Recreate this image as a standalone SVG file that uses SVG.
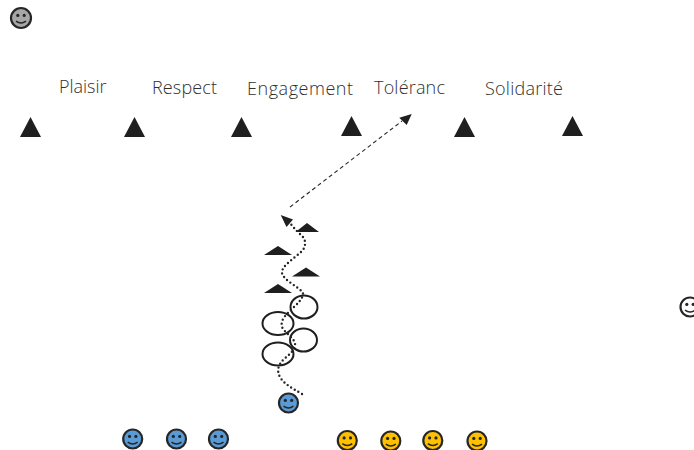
<svg xmlns="http://www.w3.org/2000/svg" width="694" height="450" viewBox="0 0 694 450">
<style>
.lbl{font-family:"Open Sans","Noto Sans",sans-serif;font-weight:300;font-size:18px;fill:#303030}
.tri{fill:#1f1f1f}
.ell{fill:none;stroke:#1f1f1f;stroke-width:2}
.face{stroke:#262626;stroke-width:2.2}
.eye{fill:#262626}
.mouth{fill:none;stroke:#262626;stroke-width:1.5}
.blue{fill:#5b9bd5}.yellow{fill:#ffc000}.grey{fill:#a6a6a6}.white{fill:#fff}
</style>
<defs>
<g id="smile"><circle class="eye" cx="-3.2" cy="-2.6" r="1.6"/><circle class="eye" cx="3.2" cy="-2.6" r="1.6"/><path class="mouth" d="M-5 3.2Q0 6.8 5 3.2"/></g>
<polygon id="big" class="tri" points="0,0 10.5,20 -10.5,20"/>
</defs>
<g id="labels">
<text class="lbl" x="59" y="93" textLength="47.5">Plaisir</text>
<text class="lbl" x="152" y="94" textLength="65">Respect</text>
<text class="lbl" x="247" y="95" textLength="106">Engagement</text>
<text class="lbl" x="374" y="94" textLength="71">Tol&#233;ranc</text>
<text class="lbl" x="485" y="95" textLength="78">Solidarit&#233;</text>
</g>
<g id="cones-large">
<use href="#big" x="30.5" y="117"/><use href="#big" x="134.5" y="117"/><use href="#big" x="241.5" y="117"/><use href="#big" x="351.5" y="116"/><use href="#big" x="464.5" y="117"/><use href="#big" x="572.5" y="116"/>
</g>
<g id="cones-small">
<polygon class="tri" points="307,223 319,232 295.5,232"/>
<polygon class="tri" points="278,246 292,255 264,255"/>
<polygon class="tri" points="306,267.5 320,276.5 292,276.5"/>
<polygon class="tri" points="278,284 292,293 264,293"/>
</g>
<g id="hoops">
<ellipse class="ell" cx="304" cy="307" rx="13.5" ry="11.5"/>
<ellipse class="ell" cx="278" cy="323.5" rx="15.5" ry="11.5"/>
<ellipse class="ell" cx="303.5" cy="340" rx="13.5" ry="11.5"/>
<ellipse class="ell" cx="278" cy="354" rx="15.5" ry="11.5"/>
</g>
<g id="connectors">
<path d="M302 394C292 388 284 384 280 377C276 370 279 364 284 359C290 354 296 349 295 343C293 337 285 333 282 327C280 319 287 314 293 308C298 303 303 299 303 293C298 286 284 281 282 273C281 266 295 258 303 250C307 243 305 238 300 234C296 230 293 227 290 223" fill="none" stroke="#262626" stroke-width="2.4" stroke-linecap="round" stroke-dasharray="0 4.2"/>
<polygon class="tri" points="280.7,215 293,219.5 286.5,227"/>
<path d="M290 207L402 121" fill="none" stroke="#262626" stroke-width="1.1" stroke-dasharray="4 3"/>
<polygon class="tri" points="411.7,114 406.7,125 399.3,117.7"/>
</g>
<g id="player-grey"><circle class="face grey" cx="21" cy="18" r="10"/><use href="#smile" x="21" y="18"/></g>
<g id="player-white"><circle class="face white" cx="690" cy="307" r="9.5"/><use href="#smile" x="690" y="307"/></g>
<g id="player-blue-runner"><circle class="face blue" cx="288.5" cy="403" r="9.5"/><use href="#smile" x="288.5" y="403"/></g>
<g id="player-blue-1"><circle class="face blue" cx="132.7" cy="439" r="9.5"/><use href="#smile" x="132.7" y="439"/></g>
<g id="player-blue-2"><circle class="face blue" cx="176.5" cy="439" r="9.5"/><use href="#smile" x="176.5" y="439"/></g>
<g id="player-blue-3"><circle class="face blue" cx="218.5" cy="439" r="9.5"/><use href="#smile" x="218.5" y="439"/></g>
<g id="player-yellow-1"><circle class="face yellow" cx="347.3" cy="440.5" r="9.5"/><use href="#smile" x="347.3" y="440.5"/></g>
<g id="player-yellow-2"><circle class="face yellow" cx="390.8" cy="441" r="9.5"/><use href="#smile" x="390.8" y="441"/></g>
<g id="player-yellow-3"><circle class="face yellow" cx="432.8" cy="440.5" r="9.5"/><use href="#smile" x="432.8" y="440.5"/></g>
<g id="player-yellow-4"><circle class="face yellow" cx="477" cy="441" r="9.5"/><use href="#smile" x="477" y="441"/></g>
</svg>
